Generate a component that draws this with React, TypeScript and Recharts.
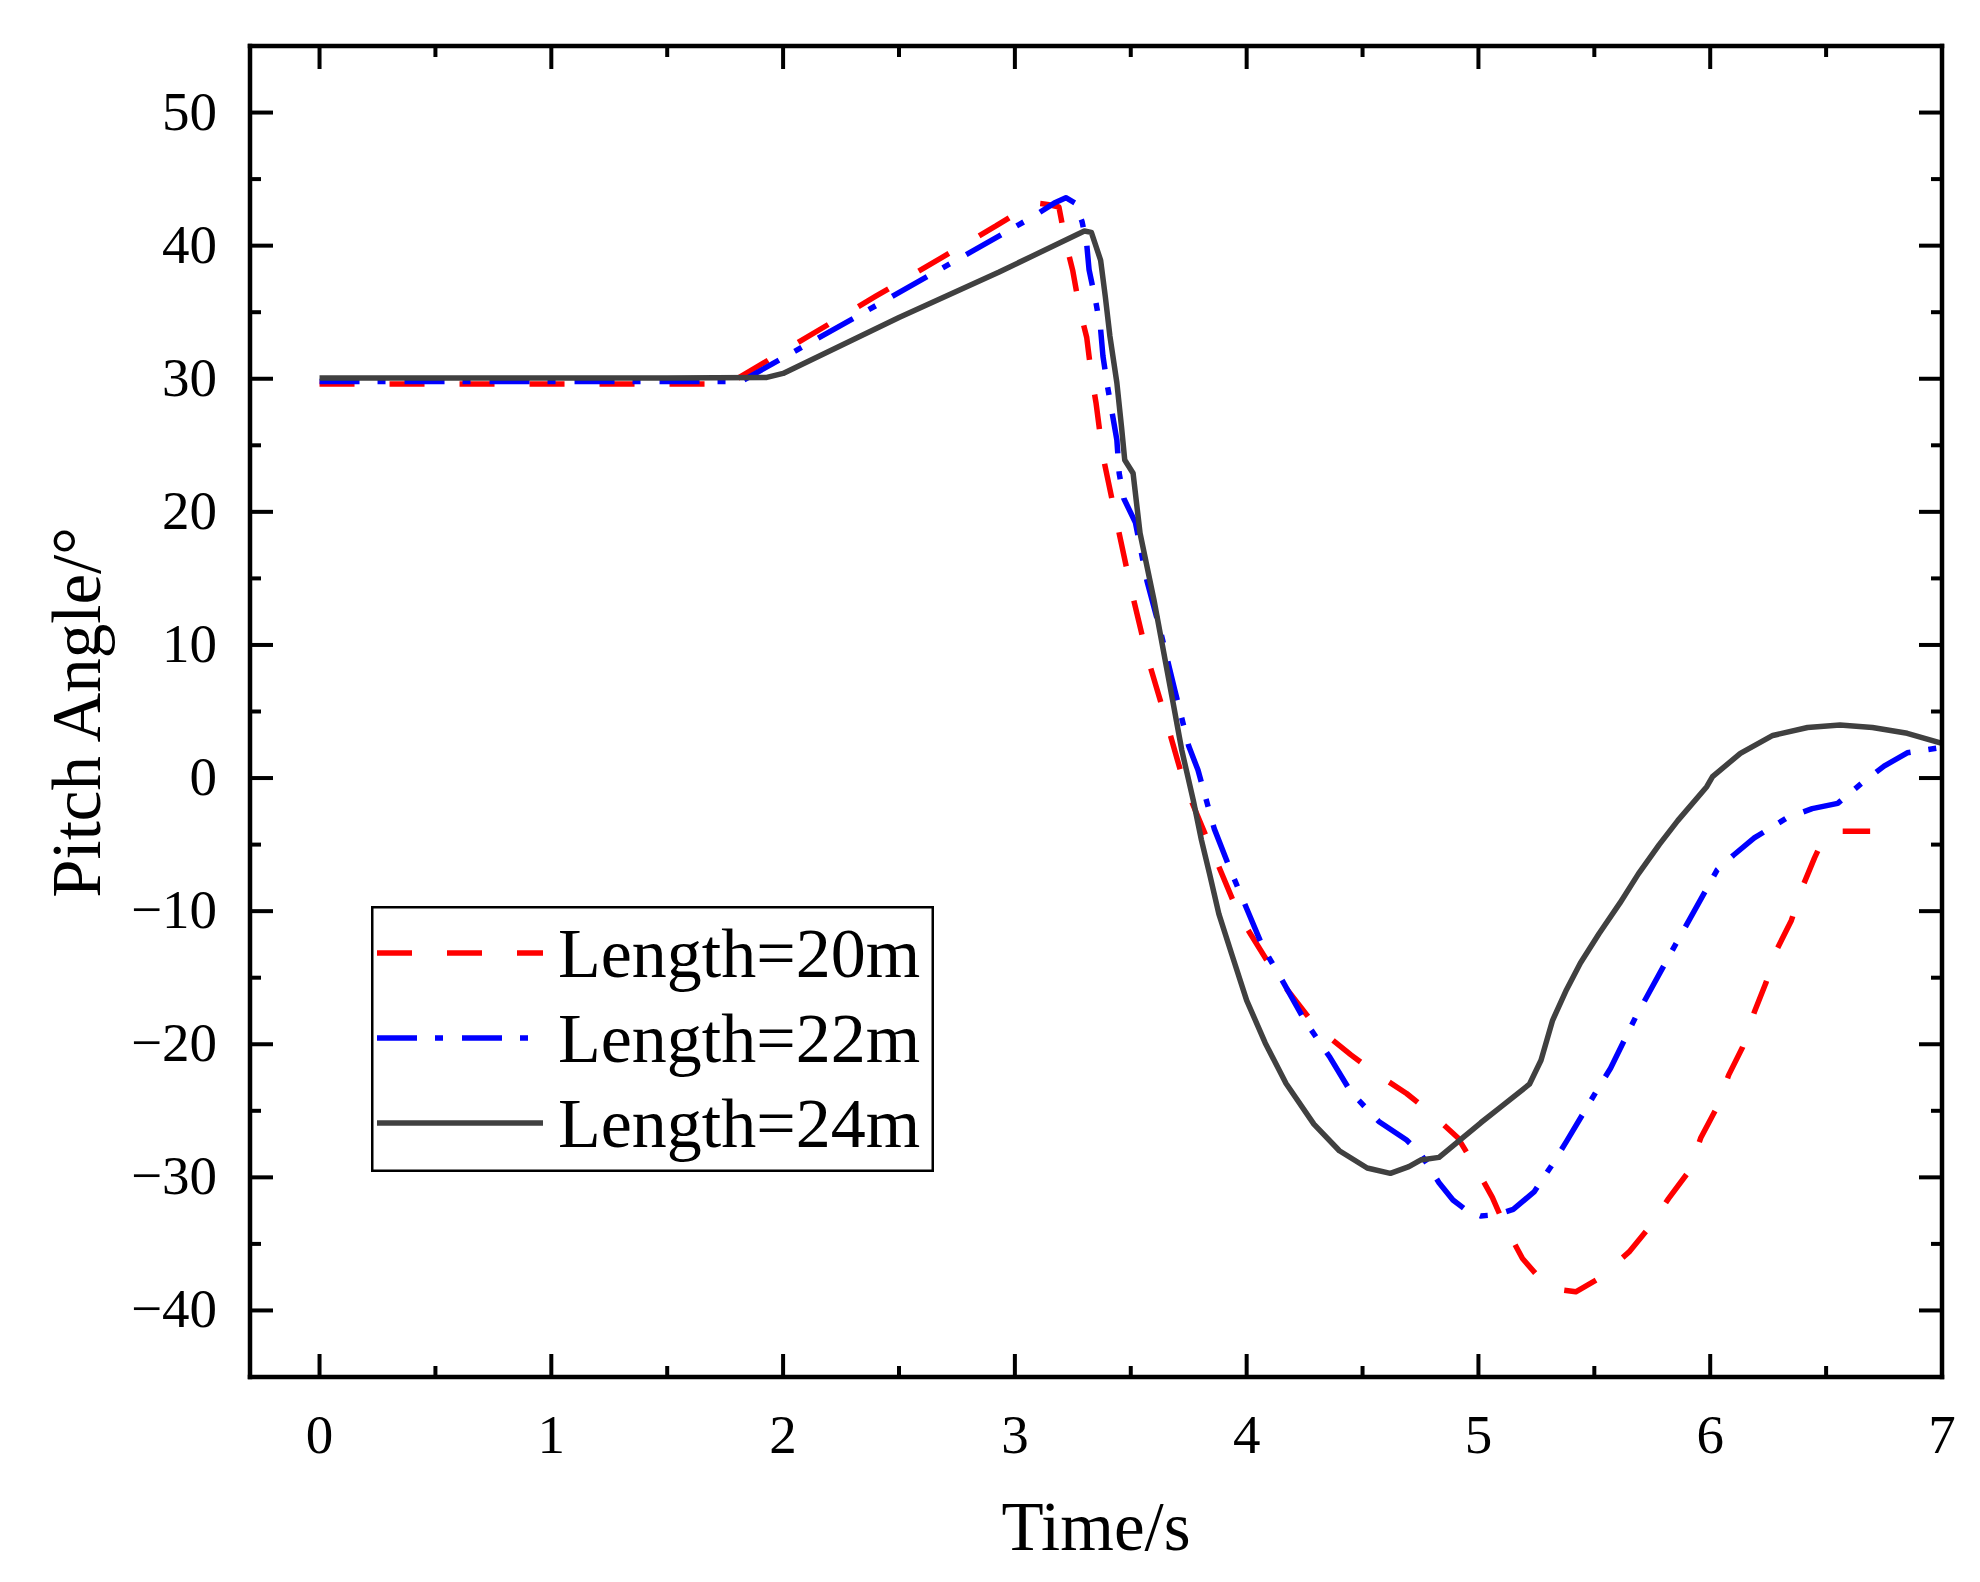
import { Label, Legend, Line, LineChart, XAxis, YAxis } from "recharts";

// Length = 20 m
const time20 = [0, 0.5, 1, 1.5, 1.76, 1.82, 2.4, 2.92, 3.05, 3.09, 3.14, 3.19, 3.22, 3.25, 3.28, 3.31, 3.33, 3.35, 3.38, 3.44, 3.5, 3.57, 3.65, 3.73, 3.84, 3.97, 4.13, 4.3, 4.45, 4.55, 4.69, 4.79, 4.91, 4.98, 5.06, 5.11, 5.19, 5.27, 5.33, 5.42, 5.52, 5.65, 5.73, 5.82, 5.91, 5.96, 6.03, 6.08, 6.14, 6.19, 6.24, 6.29, 6.35, 6.4, 6.45, 6.49, 6.54, 6.69];
const pitch20 = [29.6, 29.6, 29.6, 29.6, 29.6, 30.2, 36.2, 41.5, 42.9, 43.2, 43.1, 42.9, 40.2, 38.1, 35.2, 33.1, 30.3, 28.2, 24.2, 19.2, 14.3, 9.2, 4.5, -0.4, -5.0, -10.4, -14.9, -18.7, -20.8, -22.1, -23.7, -25.1, -27.0, -29.0, -31.5, -33.5, -36.1, -37.7, -38.4, -38.6, -37.6, -35.6, -33.9, -31.6, -29.5, -27.0, -24.7, -22.3, -20.2, -17.6, -15.4, -12.8, -10.7, -8.1, -6.0, -4.5, -4.0, -4.0];

// Length = 22 m
const time22 = [0, 0.5, 1, 1.5, 1.82, 1.86, 2.33, 2.99, 3.08, 3.17, 3.22, 3.26, 3.29, 3.31, 3.32, 3.35, 3.37, 3.38, 3.4, 3.42, 3.44, 3.45, 3.47, 3.52, 3.57, 3.63, 3.69, 3.75, 3.79, 3.86, 3.93, 4.0, 4.07, 4.16, 4.25, 4.36, 4.45, 4.57, 4.69, 4.75, 4.83, 4.89, 4.95, 5.01, 5.08, 5.15, 5.24, 5.32, 5.38, 5.51, 5.57, 5.68, 5.86, 6.03, 6.1, 6.19, 6.33, 6.44, 6.55, 6.66, 6.75, 6.85, 7.0];
const pitch22 = [29.8, 29.8, 29.8, 29.8, 29.8, 30.2, 34.8, 41.3, 42.2, 43.2, 43.6, 43.2, 41.8, 40.1, 38.2, 35.7, 33.7, 31.7, 29.4, 27.4, 25.4, 22.9, 21.0, 19.2, 14.8, 10.9, 6.6, 2.4, 0.6, -3.8, -6.9, -9.8, -12.7, -15.4, -18.2, -21.0, -23.6, -25.8, -27.2, -28.2, -30.4, -31.7, -32.5, -32.9, -32.8, -32.4, -31.1, -29.0, -27.3, -23.5, -21.8, -17.9, -12.2, -6.9, -5.8, -4.5, -3.0, -2.3, -1.9, -0.3, 0.9, 1.9, 2.3];

// Length = 24 m
const time24 = [0, 0.5, 1, 1.5, 1.93, 2.0, 2.5, 2.93, 3.3, 3.33, 3.37, 3.39, 3.41, 3.44, 3.46, 3.474, 3.51, 3.54, 3.6, 3.68, 3.72, 3.77, 3.805, 3.84, 3.88, 3.935, 4.0, 4.08, 4.17, 4.29, 4.4, 4.52, 4.62, 4.7, 4.75, 4.83, 4.92, 5.01, 5.09, 5.22, 5.27, 5.32, 5.38, 5.44, 5.52, 5.61, 5.69, 5.78, 5.86, 5.985, 6.01, 6.13, 6.27, 6.42, 6.56, 6.7, 6.85, 7.0];
const pitch24 = [30.05, 30.05, 30.05, 30.05, 30.1, 30.4, 34.6, 38.0, 41.1, 41.0, 38.9, 36.2, 33.2, 29.7, 26.4, 23.9, 22.9, 18.4, 13.4, 5.9, 2.1, -1.7, -4.66, -7.2, -10.2, -13.2, -16.7, -19.9, -22.95, -26.0, -28.0, -29.3, -29.7, -29.2, -28.7, -28.5, -27.2, -25.9, -24.8, -23.0, -21.2, -18.2, -15.9, -13.9, -11.7, -9.4, -7.2, -5.0, -3.2, -0.65, 0.1, 1.86, 3.2, 3.8, 3.98, 3.8, 3.36, 2.6];

const xTicks = [0, 0.5, 1, 1.5, 2, 2.5, 3, 3.5, 4, 4.5, 5, 5.5, 6, 6.5, 7];
const yTicks = [-40, -35, -30, -25, -20, -15, -10, -5, 0, 5, 10, 15, 20, 25, 30, 35, 40, 45, 50];

const FONT = '"Liberation Serif", "Times New Roman", Times, serif';

const toPoints = (ts: number[], vs: number[]) => ts.map((t, i) => ({ t, v: vs[i] }));

const series = [
  { name: "Length=20m", data: toPoints(time20, pitch20), color: "#ff0000", dash: "35 35", xId: "bottom", yId: "left" },
  { name: "Length=22m", data: toPoints(time22, pitch22), color: "#0000ff", dash: "40 18 8 19", xId: "bottom", yId: "left" },
  { name: "Length=24m", data: toPoints(time24, pitch24), color: "#404040", dash: undefined as string | undefined, xId: "top", yId: "right" },
];

// plot frame
const W = 1980;
const H = 1582;
const LEFT = 250;
const RIGHT = 1942;
const TOP = 46;
const BOTTOM = 1377;

const MAJOR = 23;
const MINOR = 11;
const TICK_W = 4;

function BottomTick({ x, payload }: any) {
  const major = Number.isInteger(payload.value);
  return (
    <g>
      <line x1={x} x2={x} y1={BOTTOM} y2={BOTTOM - (major ? MAJOR : MINOR)} stroke="#000" strokeWidth={TICK_W} />
      {major && (
        <text x={x} y={BOTTOM + 76} textAnchor="middle" fontSize={55} fontFamily={FONT} fill="#000">
          {payload.value}
        </text>
      )}
    </g>
  );
}

function TopTick({ x, payload }: any) {
  const major = Number.isInteger(payload.value);
  return <line x1={x} x2={x} y1={TOP} y2={TOP + (major ? MAJOR : MINOR)} stroke="#000" strokeWidth={TICK_W} />;
}

function LeftTick({ y, payload }: any) {
  const v = payload.value;
  const major = v % 10 === 0;
  return (
    <g>
      <line x1={LEFT} x2={LEFT + (major ? MAJOR : MINOR)} y1={y} y2={y} stroke="#000" strokeWidth={TICK_W} />
      {major && (
        <text x={LEFT - 33} y={y + 17} textAnchor="end" fontSize={55} fontFamily={FONT} fill="#000">
          {v < 0 ? `\u2212${-v}` : `${v}`}
        </text>
      )}
    </g>
  );
}

function RightTick({ y, payload }: any) {
  const major = payload.value % 10 === 0;
  return <line x1={RIGHT} x2={RIGHT - (major ? MAJOR : MINOR)} y1={y} y2={y} stroke="#000" strokeWidth={TICK_W} />;
}

const axisLine = { stroke: "#000", strokeWidth: 4.5, strokeLinecap: "square" as const };

function renderLegend() {
  return (
    <svg width={563} height={266} style={{ display: "block" }}>
      <rect x={1.25} y={1.25} width={560.5} height={263.5} fill="#fff" stroke="#000" strokeWidth={2.5} />
      {series.map((s, i) => (
        <g key={s.name}>
          <line
            x1={6}
            x2={172}
            y1={47 + 85 * i}
            y2={47 + 85 * i}
            stroke={s.color}
            strokeWidth={5.5}
            strokeDasharray={s.dash}
          />
          <text x={187} y={71 + 85 * i} fontSize={70} fontFamily={FONT} fill="#000">
            {s.name}
          </text>
        </g>
      ))}
    </svg>
  );
}

const common = {
  type: "number" as const,
  allowDataOverflow: true,
  interval: 0 as const,
  tickSize: 0,
  tickMargin: 0,
  tickLine: false,
  axisLine,
};

export default function App() {
  return (
    <div style={{ position: "absolute", left: 0, top: 0, background: "#fff" }}>
      <LineChart width={W} height={H} margin={{ top: TOP - 1, right: W - RIGHT - 1, bottom: 0, left: 0 }}>
        <XAxis
          {...common}
          xAxisId="bottom"
          dataKey="t"
          domain={[-0.3, 7]}
          ticks={xTicks}
          height={H - BOTTOM}
          tick={BottomTick}
        >
          <Label
            content={({ viewBox }: any) => (
              <text
                x={viewBox.x + viewBox.width / 2}
                y={BOTTOM + 173}
                textAnchor="middle"
                fontSize={69}
                fontFamily={FONT}
                fill="#000"
              >
                Time/s
              </text>
            )}
          />
        </XAxis>
        <XAxis
          {...common}
          xAxisId="top"
          orientation="top"
          dataKey="t"
          domain={[-0.3, 7]}
          ticks={xTicks}
          height={1}
          tick={TopTick}
        />
        <YAxis
          {...common}
          yAxisId="left"
          dataKey="v"
          domain={[-45, 55]}
          ticks={yTicks}
          width={LEFT}
          tick={LeftTick}
        >
          <Label
            content={({ viewBox }: any) => {
              const cx = 100;
              const cy = viewBox.y + viewBox.height / 2 + 1;
              return (
                <text
                  x={cx}
                  y={cy}
                  transform={`rotate(-90 ${cx} ${cy})`}
                  textAnchor="middle"
                  fontSize={69}
                  fontFamily={FONT}
                  fill="#000"
                >
                  Pitch Angle/°
                </text>
              );
            }}
          />
        </YAxis>
        <YAxis
          {...common}
          yAxisId="right"
          orientation="right"
          dataKey="v"
          domain={[-45, 55]}
          ticks={yTicks}
          width={1}
          tick={RightTick}
        />
        {series.map((s) => (
          <Line
            key={s.name}
            xAxisId={s.xId}
            yAxisId={s.yId}
            data={s.data}
            dataKey="v"
            name={s.name}
            type="linear"
            stroke={s.color}
            strokeWidth={5.5}
            strokeDasharray={s.dash}
            strokeLinejoin="round"
            dot={false}
            activeDot={false}
            isAnimationActive={false}
          />
        ))}
        <Legend
          layout="horizontal"
          verticalAlign="middle"
          align="center"
          content={renderLegend}
          wrapperStyle={{ left: 371, top: 906, width: 563, height: 266, margin: 0, padding: 0, lineHeight: 0 }}
        />
      </LineChart>
    </div>
  );
}
